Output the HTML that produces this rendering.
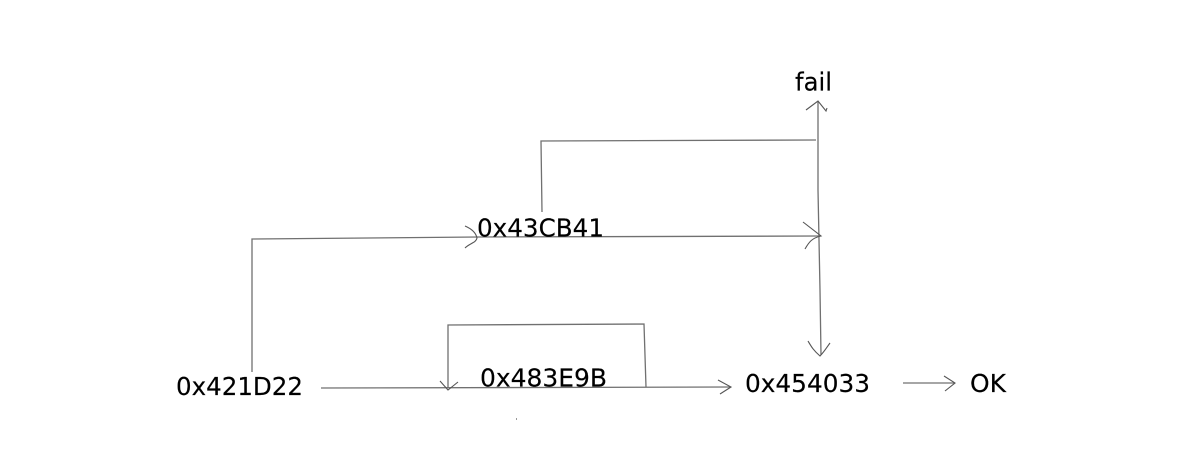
<!DOCTYPE html>
<html>
<head>
<meta charset="utf-8">
<style>
html,body{margin:0;padding:0;background:#fff;width:1180px;height:463px;overflow:hidden}
svg{display:block}
text{font-family:"DejaVu Sans",sans-serif;fill:#000;stroke:#000;stroke-width:.15;font-size:24.5px}
.a{fill:none;stroke:#707070;stroke-width:1.3}
.b{fill:none;stroke:#555;stroke-width:1.1}
</style>
</head>
<body>
<svg width="1180" height="463" viewBox="0 0 1180 463" xmlns="http://www.w3.org/2000/svg">
<!-- vertical spine -->
<path class="a" d="M818 102 L818 190 L820 290 L821 355"/>
<path class="b" d="M806 110 L818 101 L826 111 L827 108"/>
<path class="b" d="M808 341 C811 346 813 350 820 356 C824 352 827 347 830 343"/>
<!-- fail loop -->
<path class="a" d="M816 140 L541 141 L542 212"/>
<!-- top line -->
<path class="a" d="M252 372 L252 239 L478 237"/>
<path class="b" d="M465 226 C472 229 476 233 477 238 C476 243 470 243 465 248"/>
<path class="a" d="M478 237 L820 236"/>
<path class="b" d="M803 222 L821 236 C812 238 809 242 805 249"/>
<!-- bottom line -->
<path class="a" d="M321 388 L730 387"/>
<path class="b" d="M718 380 L731 387 L720 394"/>
<!-- self loop -->
<path class="a" d="M448 388 L448 325 L644 324 L646 387"/>
<path class="b" d="M440 381 L448 390 L458 382"/>
<!-- OK arrow -->
<path class="a" d="M903 383 L954 383"/>
<path class="b" d="M944 376 L955 383 L945 391"/>
<!-- dot -->
<rect x="516" y="418" width="1" height="2" fill="#999"/>
<text x="795" y="90.5" textLength="37" lengthAdjust="spacingAndGlyphs">fail</text>
<text x="477" y="236.5" textLength="127" lengthAdjust="spacingAndGlyphs">0x43CB41</text>
<text x="176" y="395" textLength="127" lengthAdjust="spacingAndGlyphs">0x421D22</text>
<text x="480" y="386.5" textLength="127" lengthAdjust="spacingAndGlyphs">0x483E9B</text>
<text x="745" y="392" textLength="125" lengthAdjust="spacingAndGlyphs">0x454033</text>
<text x="970" y="392" textLength="36" lengthAdjust="spacingAndGlyphs">OK</text>
</svg>
</body>
</html>
